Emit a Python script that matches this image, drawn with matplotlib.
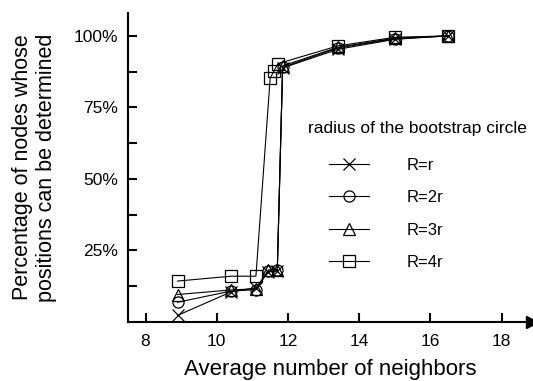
import matplotlib.pyplot as plt

plt.rcParams['font.family'] = ['Liberation Sans', 'DejaVu Sans']

# average number of neighbors
x_common = [8.9, 10.4, 11.1, 11.45, 11.7, 11.85, 13.4, 15.0, 16.5]
x_4r = [8.9, 10.4, 11.1, 11.5, 11.6, 11.72, 13.4, 15.0, 16.5]

# percentage of nodes whose positions can be determined
y_r = [2.3, 10.5, 12.0, 17.5, 17.8, 88.8, 95.3, 98.8, 100]
y_2r = [6.9, 10.8, 11.3, 17.8, 18.0, 89.0, 95.8, 99.0, 100]
y_3r = [9.6, 11.2, 11.6, 18.2, 18.3, 89.5, 96.0, 99.2, 100]
y_4r = [14.3, 16.0, 16.0, 85.2, 87.6, 90.3, 96.5, 99.5, 100]

labels = ['R=r', 'R=2r', 'R=3r', 'R=4r']
markers = ['x', 'o', '^', 's']

fig = plt.figure(figsize=(5.33, 3.81), dpi=100)
ax = fig.add_axes([0.2396, 0.1549, 0.7584, 0.811])

series = [(x_common, y_r), (x_common, y_2r), (x_common, y_3r), (x_4r, y_4r)]
for (xs, ys), lab, m in zip(series, labels, markers):
    ax.plot(xs, ys, color='black', lw=0.8, marker=m, ms=8,
            mfc='none', mec='black', mew=0.9, label=lab)

ax.set_xlim(7.5, 18.85)
ax.set_ylim(0, 108)
ax.set_xticks([8, 10, 12, 14, 16, 18])
ax.set_yticks([25, 50, 75, 100])
ax.set_yticklabels(['25%', '50%', '75%', '100%'])
ax.set_yticks([12.5, 37.5, 62.5, 87.5], minor=True)

for s in ['top', 'right']:
    ax.spines[s].set_visible(False)
for s in ['left', 'bottom']:
    ax.spines[s].set_linewidth(1.5)

ax.tick_params(axis='both', which='both', direction='in', length=6.5, width=1.5,
               labelsize=12.5)
ax.tick_params(axis='y', pad=7)
ax.tick_params(axis='x', pad=9)

# axis arrows
ax.plot(1, 0, '>k', ms=9, transform=ax.get_yaxis_transform(), clip_on=False)
ax.plot(0, 1, '^k', ms=9, transform=ax.get_xaxis_transform(), clip_on=False)

ax.set_xlabel('Average number of neighbors', fontsize=16, labelpad=7)
ax.set_ylabel('Percentage of nodes whose\npositions can be determined',
              fontsize=15.5, labelpad=12)

ax.text(0.447, 0.626, 'radius of the bootstrap circle', transform=ax.transAxes,
        fontsize=12.5, ha='left', va='center')
ax.legend(loc='upper left', bbox_to_anchor=(0.462, 0.58), frameon=False,
          fontsize=12, handlelength=2.4, handletextpad=2.2, labelspacing=1.05)

fig.savefig('out.png', dpi=100)
